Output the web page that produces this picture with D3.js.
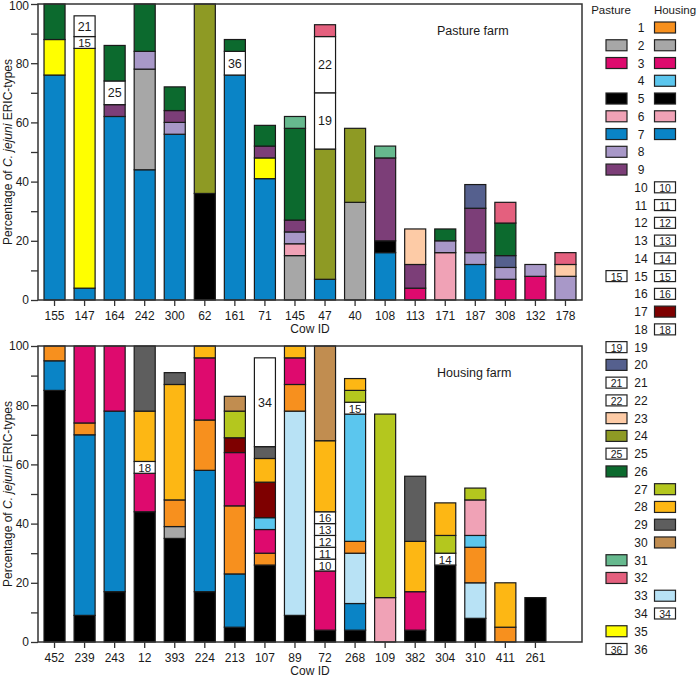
<!DOCTYPE html>
<html><head><meta charset="utf-8">
<script src="https://cdn.jsdelivr.net/npm/d3@7"></script>
<style>body{margin:0;background:#fff} svg{font-family:"Liberation Sans",Arial,sans-serif}</style>
</head><body><svg id="c" width="700" height="677"></svg>
<script>
// ---- data ----
const pastureCows = ["155","147","164","242","300","62","161","71","145","47","40","108","113","171","187","308","132","178"];
// segments bottom->top: [ERIC type, percentage]
const pastureStacks = [
  [[7,76],[35,12],[26,12]],
  [[7,4],[35,81],[15,4],[21,7]],
  [[7,62],[9,4],[25,8],[26,12]],
  [[7,44],[2,34],[8,6],[26,16]],
  [[7,56],[8,4],[9,4],[26,8]],
  [[5,36],[24,64]],
  [[7,76],[36,8],[26,4]],
  [[7,41],[35,7],[9,4],[26,7]],
  [[2,15],[6,4],[8,4],[9,4],[26,31],[31,4]],
  [[7,7],[24,44],[19,19],[22,19],[32,4]],
  [[2,33],[24,25]],
  [[7,16],[5,4],[9,28],[31,4]],
  [[3,4],[9,8],[23,12]],
  [[6,16],[8,4],[26,4]],
  [[7,12],[8,4],[9,15],[20,8]],
  [[3,7],[8,4],[20,4],[26,11],[32,7]],
  [[3,8],[8,4]],
  [[8,8],[23,4],[32,4]]
];
const housingCows = ["452","239","243","12","393","224","213","107","89","72","268","109","382","304","310","411","261"];
const housingStacks = [
  [[5,85],[7,10],[1,5]],
  [[5,9],[7,61],[1,4],[3,26]],
  [[5,17],[7,61],[3,22]],
  [[5,44],[3,13],[18,4],[28,17],[29,22]],
  [[5,35],[2,4],[1,9],[28,39],[29,4]],
  [[5,17],[7,41],[1,17],[3,21],[28,4]],
  [[5,5],[7,18],[1,23],[3,18],[17,5],[27,9],[30,5]],
  [[5,26],[1,4],[3,8],[4,4],[17,12],[28,8],[29,4],[34,30]],
  [[5,9],[33,69],[1,9],[3,9],[28,4]],
  [[5,4],[3,20],[10,4],[11,4],[12,4],[13,4],[16,4],[28,24],[30,32]],
  [[5,4],[7,9],[33,17],[1,4],[4,43],[15,4],[27,4],[28,4]],
  [[6,15],[27,62]],
  [[5,4],[3,13],[28,17],[29,22]],
  [[5,26],[14,4],[27,6],[28,11]],
  [[5,8],[33,12],[1,12],[4,4],[6,12],[27,4]],
  [[1,5],[28,15]],
  [[5,15]]
];
const yTickValues = [0,10,20,30,40,50,60,70,80,90,100];
const ericTypes = d3.range(1,37);
const pastureLegendTypes = [2,3,5,6,7,8,9,15,19,20,21,22,23,24,25,26,31,32,35,36];
const housingLegendTypes = [1,2,3,4,5,6,7,10,11,12,13,14,15,16,17,18,27,28,29,30,33,34];
const whiteTypes = [10,11,12,13,14,15,16,18,19,21,22,25,34,36];
const typeColors = {
  1:"#F7901E",2:"#A7A7A7",3:"#DE0A6E",4:"#5BC6EE",5:"#000000",6:"#F0A2B6",7:"#0A84C6",
  8:"#A898C8",9:"#7C3E78",17:"#7E0000",20:"#55608E",23:"#FDCBA6",24:"#8E9A24",26:"#0C6A2E",
  27:"#B4C71E",28:"#FDB714",29:"#5E5E5E",30:"#C18D50",31:"#66B98E",32:"#E4607E",33:"#B8E2F5",35:"#FFFF00"
};

// ---- drawing ----
const svg = d3.select("#c");
const L = 38, R = 582;
const ink = "#1a1a1a";
const FS = 12;
const x = d3.scaleBand().domain(d3.range(18)).range([L, R]).paddingInner(0.3).paddingOuter(0.2);

function panel(cows, stacks, yBottom, yTopPx, title, titleY, cowIdY) {
  const y = d3.scaleLinear().domain([0,100]).range([yBottom, yTopPx]);
  const g = svg.append("g");
  stacks.forEach((segs, i) => {
    let cum = 0;
    segs.forEach(([t, v]) => {
      const y0 = y(cum), y1 = y(cum + v);
      const white = whiteTypes.includes(t);
      g.append("rect").attr("x", x(i)).attr("width", x.bandwidth())
        .attr("y", y1).attr("height", y0 - y1)
        .attr("fill", white ? "#fff" : typeColors[t])
        .attr("stroke", ink).attr("stroke-width", 1.2);
      if (white) {
        const hpx = y0 - y1;
        g.append("text").attr("x", x(i) + x.bandwidth()/2).attr("y", (y0 + y1)/2 + 0.5)
          .attr("text-anchor","middle").attr("dominant-baseline","central")
          .attr("font-size", hpx < 14 ? 11.5 : 12.5).attr("fill", ink).text(t);
      }
      cum += v;
    });
  });
  // frame
  svg.append("rect").attr("x", L).attr("y", yTopPx).attr("width", R - L).attr("height", yBottom - yTopPx)
    .attr("fill","none").attr("stroke", "#333").attr("stroke-width", 1.5);
  // y axis
  const ya = svg.append("g").attr("transform", `translate(${L},0)`)
    .call(d3.axisLeft(y).tickValues(yTickValues).tickSize(7).tickPadding(2)
      .tickFormat(d => d % 20 === 0 ? d : ""));
  ya.select(".domain").remove();
  ya.selectAll("line").attr("stroke", "#333").attr("stroke-width", 1.3);
  ya.selectAll("text").attr("font-size", FS).attr("fill", ink).attr("font-family", "Liberation Sans, Arial, sans-serif");
  // keep the top label inside the picture
  ya.selectAll(".tick").filter(d => y(d) < 8).select("text").attr("dy", "0.42em");
  // x axis
  const xa = svg.append("g").attr("transform", `translate(0,${yBottom})`)
    .call(d3.axisBottom(x).tickSize(6).tickPadding(5).tickFormat(i => cows[i] || ""));
  xa.select(".domain").remove();
  xa.selectAll(".tick").filter(i => i >= cows.length).remove();
  xa.selectAll("line").attr("stroke", "#333").attr("stroke-width", 1.3);
  xa.selectAll("text").attr("font-size", FS).attr("fill", ink).attr("font-family", "Liberation Sans, Arial, sans-serif");
  svg.append("text").attr("x", 310).attr("y", cowIdY).attr("text-anchor","middle")
    .attr("font-size", FS).attr("fill", ink).text("Cow ID");
  // y label
  const yl = svg.append("text").attr("transform", `translate(12,${(yBottom + yTopPx)/2}) rotate(-90)`)
    .attr("text-anchor","middle").attr("font-size", 12).attr("fill", ink);
  yl.append("tspan").text("Percentage of ");
  yl.append("tspan").attr("font-style","italic").text("C. jejuni");
  yl.append("tspan").text(" ERIC-types");
  // title
  svg.append("text").attr("x", 437).attr("y", titleY).attr("font-size", 12.5).attr("fill", ink).text(title);
}

panel(pastureCows, pastureStacks, 300, 4, "Pasture farm", 34.5, 333);
panel(housingCows, housingStacks, 642, 346, "Housing farm", 377, 674.5);

// legend
svg.append("text").attr("x", 611).attr("y", 13.5).attr("text-anchor","middle").attr("font-size", 11.5).attr("fill", ink).text("Pasture");
svg.append("text").attr("x", 675).attr("y", 13.5).attr("text-anchor","middle").attr("font-size", 11.5).attr("fill", ink).text("Housing");
const rowY = d3.scalePoint().domain(ericTypes).range([27.5, 649]);
const leg = svg.append("g");
function swatch(xp, t) {
  const cy = rowY(t);
  const white = whiteTypes.includes(t);
  leg.append("rect").attr("x", xp).attr("y", cy - 5.5).attr("width", 21).attr("height", 11)
    .attr("fill", white ? "#fff" : typeColors[t]).attr("stroke", "#222").attr("stroke-width", 1.2);
  if (white) leg.append("text").attr("x", xp + 10.5).attr("y", cy + 0.5).attr("text-anchor","middle")
    .attr("dominant-baseline","central").attr("font-size", 10.5).attr("fill", ink).text(t);
}
ericTypes.forEach(t => {
  leg.append("text").attr("x", 641).attr("y", rowY(t) + 0.5).attr("text-anchor","middle")
    .attr("dominant-baseline","central").attr("font-size", 12).attr("fill", ink).text(t);
});
pastureLegendTypes.forEach(t => swatch(606, t));
housingLegendTypes.forEach(t => swatch(654.5, t));
</script></body></html>
